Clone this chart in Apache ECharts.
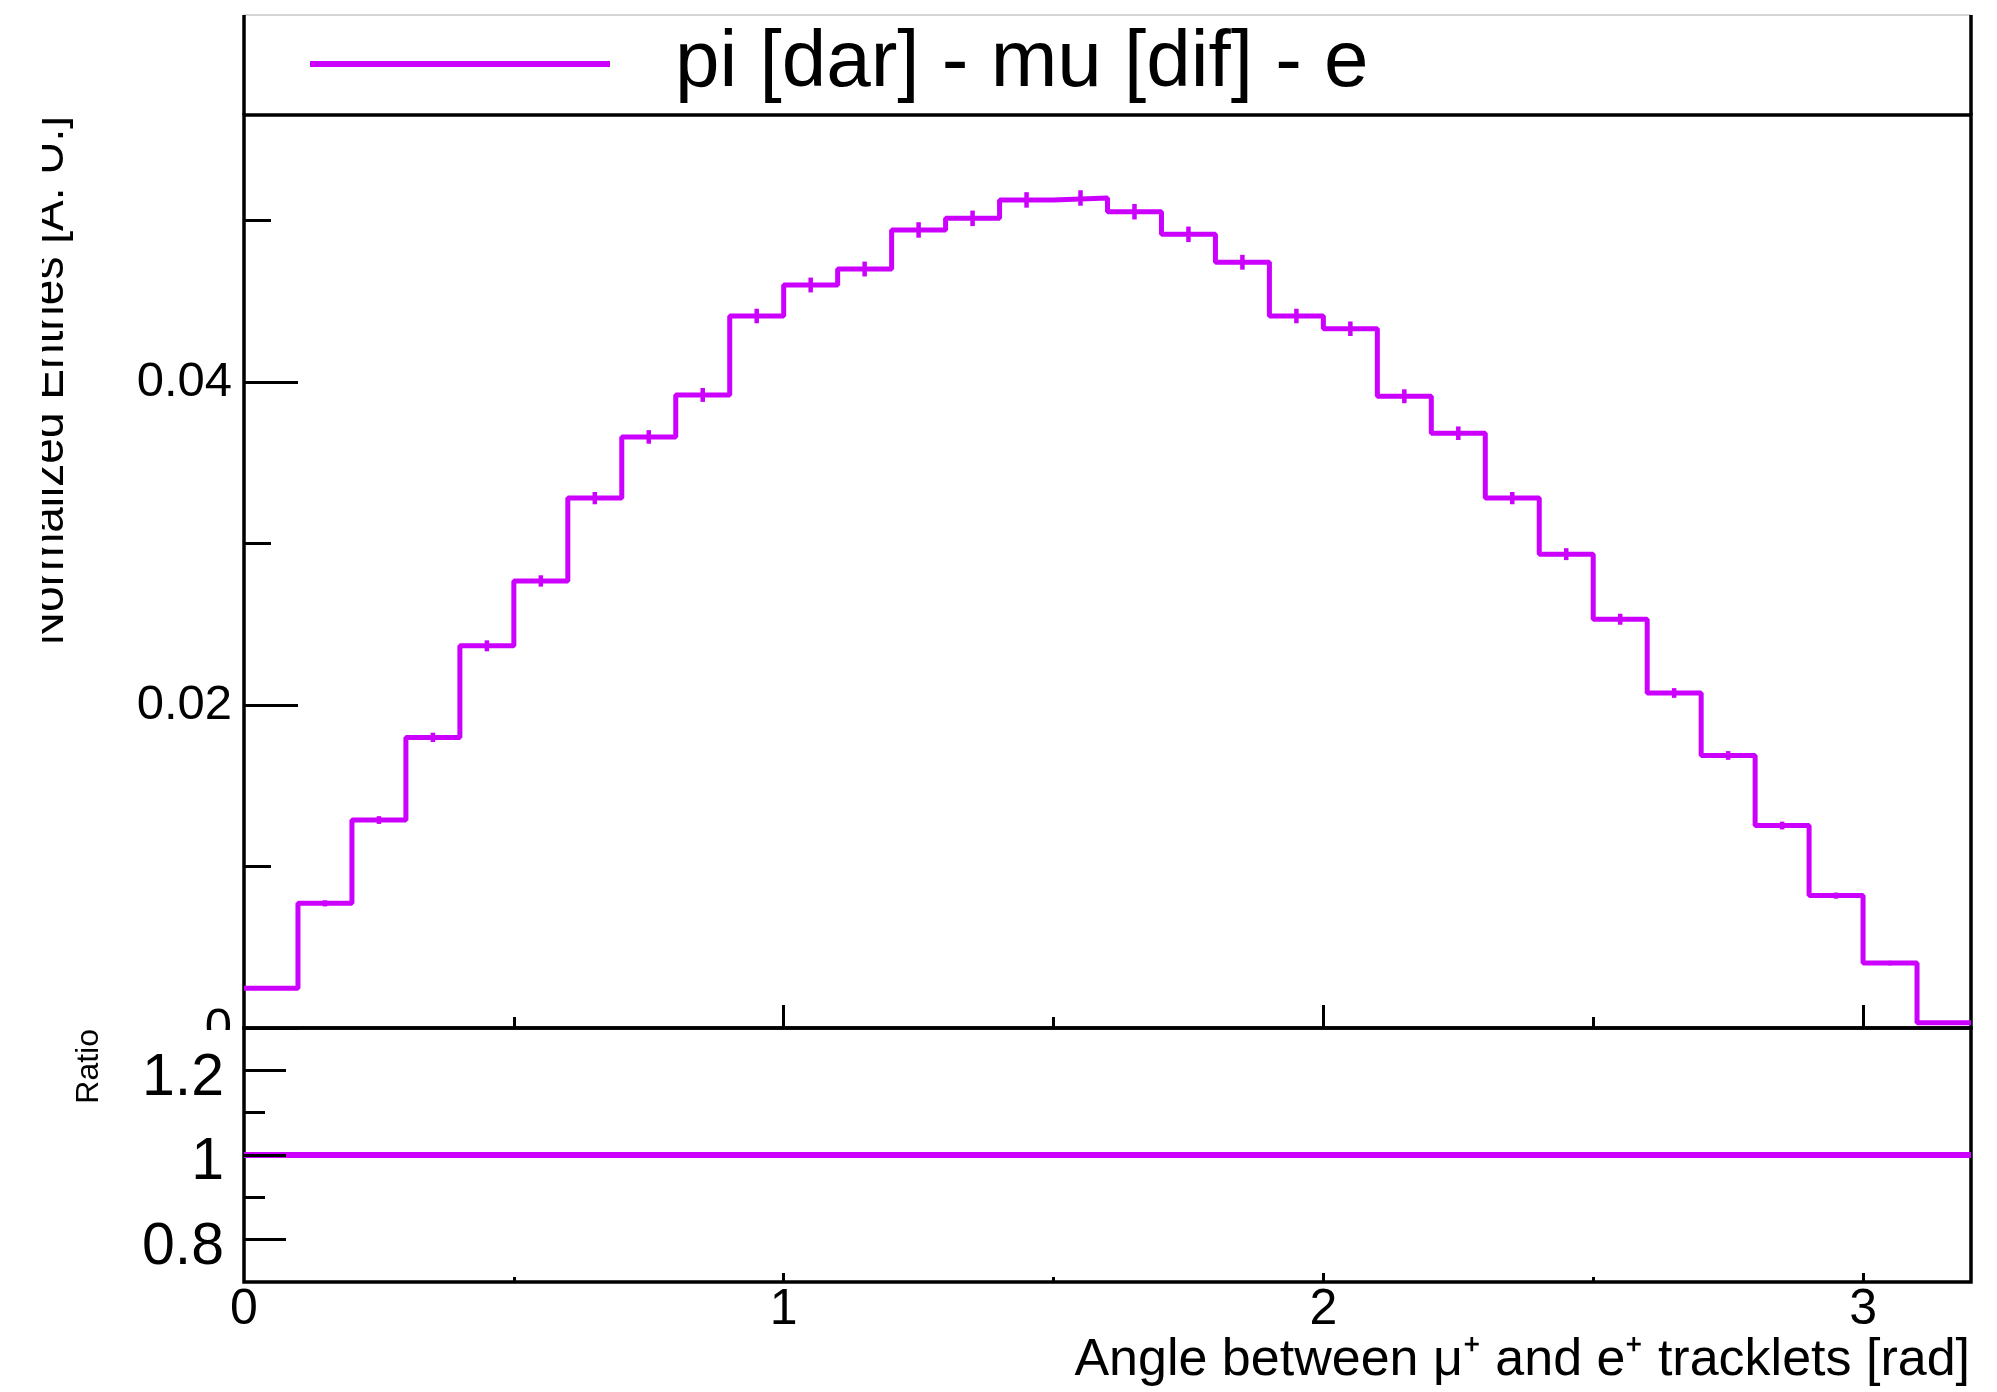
<!DOCTYPE html>
<html>
<head>
<meta charset="utf-8">
<script src="https://cdn.jsdelivr.net/npm/echarts@6/dist/echarts.min.js"></script>
<style>
  html, body { margin: 0; padding: 0; background: #fff; }
  #chart { width: 1997px; height: 1392px; }
</style>
</head>
<body>
<div id="chart"></div>
<script>
const FONT = 'Liberation Sans';
const MAGENTA = '#cc00ff';
const LEGEND_NAME = 'pi [dar] - mu [dif] - e';

// bin edges of the histogram [rad]
const binEdges = [0.0, 0.1, 0.2, 0.3, 0.4, 0.5, 0.6, 0.7, 0.8, 0.9, 1.0,
                  1.1, 1.2, 1.3, 1.4, 1.5, 1.6, 1.7, 1.8, 1.9, 2.0,
                  2.1, 2.2, 2.3, 2.4, 2.5, 2.6, 2.7, 2.8, 2.9, 3.0,
                  3.1, 3.2];

// normalized entries per bin
const entries = [0.00246, 0.00772, 0.01288, 0.01800, 0.02367, 0.02769, 0.03282, 0.03661,
                 0.03921, 0.04410, 0.04602, 0.04701, 0.04943, 0.05015, 0.05129, 0.05141,
                 0.05056, 0.04916, 0.04743, 0.04410, 0.04331, 0.03913, 0.03684, 0.03282,
                 0.02935, 0.02532, 0.02075, 0.01688, 0.01254, 0.00820, 0.00402, 0.00032];

// statistical errors per bin
const errors = [0.00011, 0.00019, 0.00024, 0.00029, 0.00034, 0.00035, 0.00038, 0.00042,
                0.00043, 0.00045, 0.00046, 0.00046, 0.00048, 0.00048, 0.00048, 0.00048,
                0.00048, 0.00048, 0.00046, 0.00045, 0.00045, 0.00043, 0.00042, 0.00038,
                0.00037, 0.00034, 0.00030, 0.00027, 0.00024, 0.00019, 0.00014, 0.00003];

// ratio panel
const ratios = [1, 1, 1, 1, 1, 1, 1, 1, 1, 1, 1, 1, 1, 1, 1, 1,
                1, 1, 1, 1, 1, 1, 1, 1, 1, 1, 1, 1, 1, 1, 1, 1];

// tick positions
const xMajor = [1, 2, 3];
const xMinor = [0.5, 1.5, 2.5];
const xLabels = [0, 1, 2, 3];
const yMajor = [0, 0.02, 0.04];
const yMinor = [0.01, 0.03, 0.05];
const rMajor = [0.8, 1, 1.2];
const rMinor = [0.9, 1.1];

const Y_MAX = 0.05655;

// step outlines: one point per left edge, plus the last right edge
const histPoints = entries.map((v, i) => [binEdges[i], v]).concat([[binEdges[entries.length], entries[entries.length - 1]]]);
const ratioPoints = ratios.map((v, i) => [binEdges[i], v]).concat([[binEdges[ratios.length], ratios[ratios.length - 1]]]);
const errPoints = entries.map((v, i) => [(binEdges[i] + binEdges[i + 1]) / 2, v, errors[i]]);

const chart = echarts.init(document.getElementById('chart'), null, { renderer: 'canvas' });

function tickAxis(opts) {
    return Object.assign({
        type: 'value',
        axisLine: { show: false },
        splitLine: { show: false },
        axisLabel: { show: false }
    }, opts);
}

const tickStyle = { color: '#000', width: 3 };

chart.setOption({
    animation: false,
    backgroundColor: '#fff',
    textStyle: { fontFamily: FONT, color: '#000' },
    grid: [
        { left: 244, right: 26, top: 115, height: 913, show: true, borderColor: '#000', borderWidth: 3.5 },
        { left: 244, right: 26, top: 1028, height: 254, show: true, borderColor: '#000', borderWidth: 3.5 }
    ],
    legend: {
        data: [{ name: LEGEND_NAME, icon: 'rect' }],
        left: 310, top: 24, padding: 0,
        itemWidth: 300, itemHeight: 6,
        selectedMode: false,
        textStyle: { fontSize: 80, fontFamily: FONT, color: '#000', padding: [0, 0, 0, 60] }
    },
    xAxis: [
        tickAxis({ gridIndex: 0, min: 0, max: 3.2, position: 'bottom',
                   axisTick: { inside: true, length: 23, customValues: xMajor, lineStyle: tickStyle } }),
        tickAxis({ gridIndex: 0, min: 0, max: 3.2, position: 'bottom',
                   axisTick: { inside: true, length: 11, customValues: xMinor, lineStyle: tickStyle } }),
        tickAxis({ gridIndex: 1, min: 0, max: 3.2, position: 'bottom',
                   axisTick: { inside: true, length: 9, customValues: xMajor, lineStyle: tickStyle },
                   axisLabel: { show: true, customValues: xLabels, fontSize: 50, margin: 3, color: '#000',
                                formatter: v => String(v) } }),
        tickAxis({ gridIndex: 1, min: 0, max: 3.2, position: 'bottom',
                   axisTick: { inside: true, length: 5, customValues: xMinor, lineStyle: tickStyle } })
    ],
    yAxis: [
        tickAxis({ gridIndex: 0, min: 0, max: Y_MAX, position: 'left',
                   axisTick: { inside: true, length: 54, customValues: yMajor, lineStyle: tickStyle },
                   axisLabel: { show: true, customValues: yMajor, fontSize: 49, margin: 12, color: '#000',
                                formatter: v => v === 0 ? '0' : v.toFixed(2) } }),
        tickAxis({ gridIndex: 0, min: 0, max: Y_MAX, position: 'left',
                   axisTick: { inside: true, length: 27, customValues: yMinor, lineStyle: tickStyle } }),
        tickAxis({ gridIndex: 1, min: 0.7, max: 1.3, position: 'left', z: 5,
                   axisTick: { inside: true, length: 42, customValues: rMajor, lineStyle: tickStyle },
                   axisLabel: { show: true, customValues: rMajor, margin: 20, color: '#000',
                                formatter: v => '{r|' + (v === 1 ? '1' : v.toFixed(1)) + '}',
                                rich: { r: { fontSize: 59, fontFamily: FONT, color: '#000', padding: [16, 0, 0, 0] } } } }),
        tickAxis({ gridIndex: 1, min: 0.7, max: 1.3, position: 'left',
                   axisTick: { inside: true, length: 21, customValues: rMinor, lineStyle: tickStyle } })
    ],
    series: [
        {
            name: LEGEND_NAME, type: 'line', xAxisIndex: 0, yAxisIndex: 0,
            step: 'end', symbol: 'none', data: histPoints,
            color: MAGENTA, lineStyle: { color: MAGENTA, width: 5 }
        },
        {
            name: 'errors', type: 'custom', xAxisIndex: 0, yAxisIndex: 0, data: errPoints,
            renderItem: (params, api) => {
                const x = api.value(0), y = api.value(1), e = api.value(2);
                const lo = api.coord([x, y - e]);
                const hi = api.coord([x, y + e]);
                return {
                    type: 'line',
                    shape: { x1: lo[0], y1: lo[1], x2: hi[0], y2: hi[1] },
                    style: { stroke: MAGENTA, lineWidth: 4.5 }
                };
            }
        },
        {
            name: 'ratio', type: 'line', xAxisIndex: 2, yAxisIndex: 2,
            step: 'end', symbol: 'none', data: ratioPoints,
            color: MAGENTA, lineStyle: { color: MAGENTA, width: 6 }
        }
    ],
    graphic: [
        // legend box
        { type: 'line', shape: { x1: 244, y1: 15, x2: 1971, y2: 15 }, style: { stroke: '#c8c8c8', lineWidth: 1.5 } },
        { type: 'line', shape: { x1: 244, y1: 15, x2: 244, y2: 115 }, style: { stroke: '#000', lineWidth: 3.5 } },
        { type: 'line', shape: { x1: 1971, y1: 15, x2: 1971, y2: 115 }, style: { stroke: '#000', lineWidth: 3.5 } },
        // lower pad hides the bottom of the upper "0" label
        { type: 'rect', z: 100, shape: { x: 150, y: 1030, width: 91, height: 22 }, style: { fill: '#fff' } },
        // axis titles
        { type: 'text', z: 50, x: 73, y: 116, rotation: Math.PI / 2,
          style: { text: 'Normalized Entries [A. U.]', fontSize: 46, fontFamily: FONT, fill: '#000',
                   align: 'right', verticalAlign: 'bottom' } },
        { type: 'rect', z: 100, shape: { x: 0, y: 90, width: 42, height: 580 }, style: { fill: '#fff' } },
        { type: 'text', z: 50, x: 105, y: 1029, rotation: Math.PI / 2,
          style: { text: 'Ratio', fontSize: 32, fontFamily: FONT, fill: '#000',
                   align: 'right', verticalAlign: 'bottom' } },
        { type: 'text', z: 50, x: 1970, y: 1387,
          style: { text: 'Angle between \u03bc\u207a and e\u207a tracklets [rad]', fontSize: 52, fontFamily: FONT,
                   fill: '#000', align: 'right', verticalAlign: 'bottom' } }
    ]
});

window.addEventListener('resize', () => chart.resize());
</script>
</body>
</html>
